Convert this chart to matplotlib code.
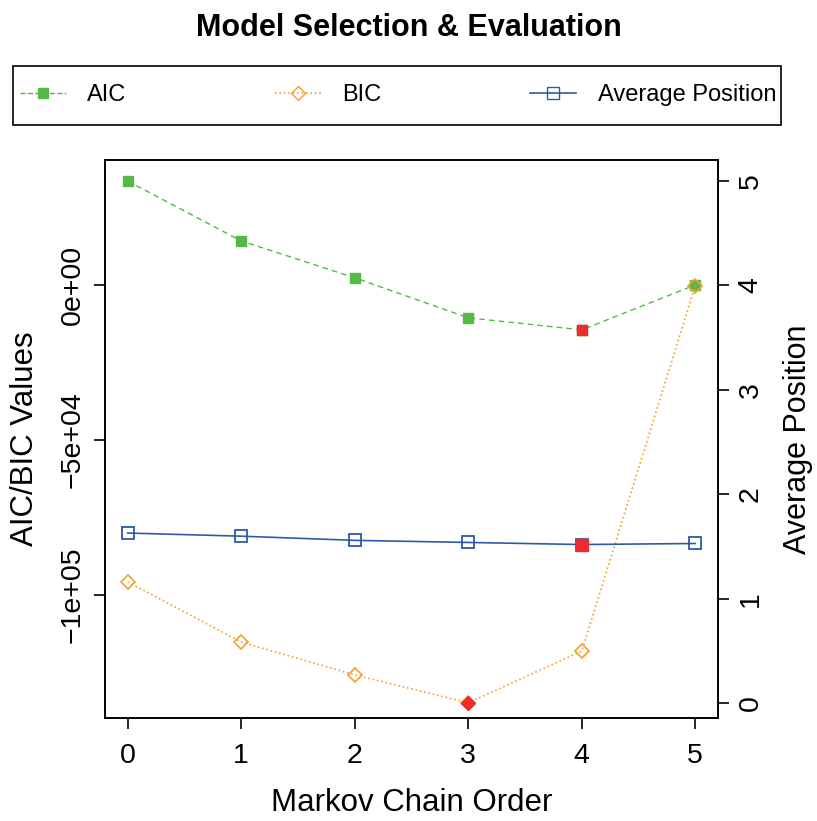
import numpy as np
import matplotlib
matplotlib.use('Agg')
import matplotlib.pyplot as plt
from matplotlib.lines import Line2D
from matplotlib.patches import Rectangle

plt.rcParams['font.family'] = ['Liberation Sans', 'DejaVu Sans']

orders = [0, 1, 2, 3, 4, 5]
aic = [33500, 14200, 2300, -10600, -14500, 0]
bic = [-95800, -115200, -125800, -134800, -118100, -200]
avg_pos = [1.63, 1.60, 1.56, 1.54, 1.52, 1.53]

c_aic = '#55b848'
c_bic = '#f5a02c'
c_avg = '#2b5ba8'
c_best = '#ee2c2c'

W, H = 817, 821
fig = plt.figure(figsize=(W / 100, H / 100), dpi=100)
ax = fig.add_axes([105 / W, 1 - 718 / H, 613 / W, 558 / H])
ax2 = ax.twinx()

ax.plot(orders, aic, ls='--', color=c_aic, lw=1, marker='s', ms=7, mfc=c_aic, mec=c_aic, dashes=(4, 3))
ax.plot(orders, bic, ls=':', color=c_bic, lw=1.2, marker='D', ms=7, mfc='none', mec=c_bic, mew=1.2)
ax2.plot(orders, avg_pos, ls='-', color=c_avg, lw=1.2, marker='s', ms=9, mfc='none', mec=c_avg, mew=1.3)

# best (minimum) values in red
i = int(np.argmin(aic))
ax.plot(orders[i], aic[i], marker='s', ms=7, color=c_best, ls='none')
i = int(np.argmin(bic))
ax.plot(orders[i], bic[i], marker='D', ms=7, color=c_best, ls='none')
i = int(np.argmin(avg_pos))
ax2.plot(orders[i], avg_pos[i], marker='s', ms=8, color=c_best, ls='none')

ax.set_xlim(-0.2, 5.2)
ax.set_ylim(-139700, 40300)
ax2.set_ylim(-0.14, 5.2)

ax.set_xticks(orders)
ax.set_yticks([0, -50000, -100000])
ax.set_yticklabels(['0e+00', '\u22125e+04', '\u22121e+05'], rotation=90, va='center')
ax2.set_yticks([0, 1, 2, 3, 4, 5])
ax2.set_yticklabels(['0', '1', '2', '3', '4', '5'], rotation=90, va='center')

for a in (ax, ax2):
    a.tick_params(direction='out', length=8, width=1.2, labelsize=20.5, pad=6)
    for s in a.spines.values():
        s.set_linewidth(1.2)
ax.tick_params(axis='x', pad=10)

ax.set_xlabel('Markov Chain Order', fontsize=22.5, labelpad=14)
ax.set_ylabel('AIC/BIC Values', fontsize=22.5, labelpad=14)
ax2.set_ylabel('Average Position', fontsize=22, labelpad=14, rotation=90)

fig.text(0.5, 1 - 28 / H, 'Model Selection & Evaluation', ha='center', va='center',
         fontsize=22, fontweight='bold')

handles = [
    Line2D([], [], color=c_aic, ls='--', lw=1, marker='s', ms=7, mfc=c_aic, mec=c_aic),
    Line2D([], [], color=c_bic, ls=':', lw=1.2, marker='D', ms=7, mfc='none', mec=c_bic),
    Line2D([], [], color=c_avg, ls='-', lw=1.2, marker='s', ms=9, mfc='none', mec=c_avg),
]
fig.legend(handles, ['AIC', 'BIC', 'Average Position'], ncol=3, mode='expand',
           bbox_to_anchor=(20 / W, 1 - 110 / H, 756 / W, 30 / H), loc='center',
           borderaxespad=0, borderpad=0, frameon=False,
           fontsize=17, handlelength=1.95, handletextpad=0.9)
fig.patches.append(Rectangle((13 / W, 1 - 125 / H), 768 / W, 59 / H, transform=fig.transFigure,
                             fill=False, edgecolor='black', linewidth=1.2))

fig.savefig('out.png', dpi=100)
